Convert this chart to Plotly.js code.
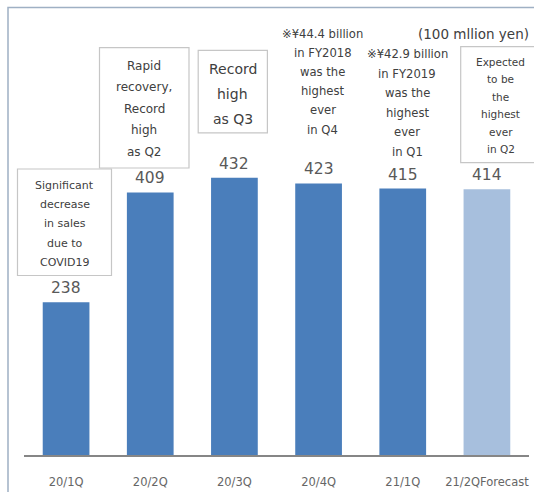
<!DOCTYPE html>
<html>
<head>
<meta charset="utf-8">
<script src="https://cdn.plot.ly/plotly-3.0.1.min.js"></script>
<style>html,body{margin:0;padding:0;background:#fff;}#chart{width:534px;height:492px;}</style>
</head>
<body>
<div id="chart"></div>
<script>
const categories = ["20/1Q", "20/2Q", "20/3Q", "20/4Q", "21/1Q", "21/2QForecast"];
const sales = [238, 409, 432, 423, 415, 414];
const barColors = ["#4a7ebb", "#4a7ebb", "#4a7ebb", "#4a7ebb", "#4a7ebb", "#a7bfdd"];
const unitLabel = "(100 mllion yen)";
const notes = [
  ["Significant", "decrease", "in sales", "due to", "COVID19"],
  ["Rapid", "recovery,", "Record", "high", "as Q2"],
  ["Record", "high", "as Q3"],
  ["※¥44.4 billion", "in FY2018", "was the", "highest", "ever", "in Q4"],
  ["※¥42.9 billion", "in FY2019", "was the", "highest", "ever", "in Q1"],
  ["Expected", "to be", "the", "highest", "ever", "in Q2"]
];

const W = 534, H = 492;
const M = {l: 24, r: 5, t: 134, b: 37};
const pw = W - M.l - M.r, ph = H - M.t - M.b;
const px = v => (v - M.l) / pw;
const py = v => (H - M.b - v) / ph;

const FONT = "DejaVu Sans, Verdana, sans-serif";
// note layout: [centerX, firstLineY, lineSpacing, fontSize, box(x0,y0,x1,y1) or null]
const noteLayout = [
  [64.5, 185.5, 19.2, 11, [17.5, 169, 111.5, 275.5]],
  [144, 66, 21.4, 12, [99.5, 47.7, 189, 168]],
  [232.8, 69, 25, 14, [198.2, 50.4, 267.4, 132.8]],
  [322.5, 34, 19.1, 11.6, null],
  [407, 54.5, 19.4, 11.6, null],
  [500.7, 61.7, 17.5, 10.5, [460.7, 46.7, 545, 162.7]]
];

const annotations = [];
const shapes = [];
notes.forEach((lines, i) => {
  const [cx, y0, sp, fs, box] = noteLayout[i];
  lines.forEach((t, j) => {
    annotations.push({
      xref: "paper", yref: "paper", x: px(cx), y: py(y0 + j * sp),
      xanchor: "center", yanchor: "middle", showarrow: false, text: t,
      font: {family: FONT, size: fs, color: "#404040"}
    });
  });
  if (box) {
    shapes.push({type: "rect", xref: "paper", yref: "paper",
      x0: px(box[0]), x1: px(box[2]), y0: py(box[3]), y1: py(box[1]),
      line: {color: "#c6c6c6", width: 1.2}, fillcolor: "rgba(0,0,0,0)", layer: "above"});
  }
});
annotations.push({
  xref: "paper", yref: "paper", x: px(473), y: py(34), xanchor: "center", yanchor: "middle",
  showarrow: false, text: unitLabel, font: {family: FONT, size: 13.5, color: "#404040"}
});
// data labels, positioned through the axes
categories.forEach((c, i) => {
  annotations.push({
    xref: "x", yref: "y", x: c, y: sales[i], xanchor: "center", yanchor: "bottom",
    yshift: 3, showarrow: false, text: String(sales[i]),
    font: {family: FONT, size: 15.5, color: "#595959"}
  });
});
// outer frame
shapes.push({type: "rect", xref: "paper", yref: "paper",
  x0: px(8), x1: px(600), y0: py(600), y1: py(7.5),
  line: {color: "#9fb0c4", width: 1.5}, fillcolor: "rgba(0,0,0,0)", layer: "below"});

const trace = {
  type: "bar", x: categories, y: sales,
  marker: {color: barColors, line: {width: 0}},
  width: 0.555,
  hoverinfo: "none"
};

const layout = {
  width: W, height: H,
  margin: M,
  paper_bgcolor: "#ffffff", plot_bgcolor: "#ffffff",
  showlegend: false,
  xaxis: {
    type: "category", showgrid: false, zeroline: false,
    showline: true, linecolor: "#868686", linewidth: 1.5,
    ticks: "", tickfont: {family: FONT, size: 11.5, color: "#666666"},
    ticklabelstandoff: 16
  },
  yaxis: {
    range: [0, 500], visible: false, showgrid: false, zeroline: false, fixedrange: true
  },
  annotations: annotations,
  shapes: shapes
};

Plotly.newPlot("chart", [trace], layout, {displayModeBar: false, staticPlot: true});
</script>
</body>
</html>
